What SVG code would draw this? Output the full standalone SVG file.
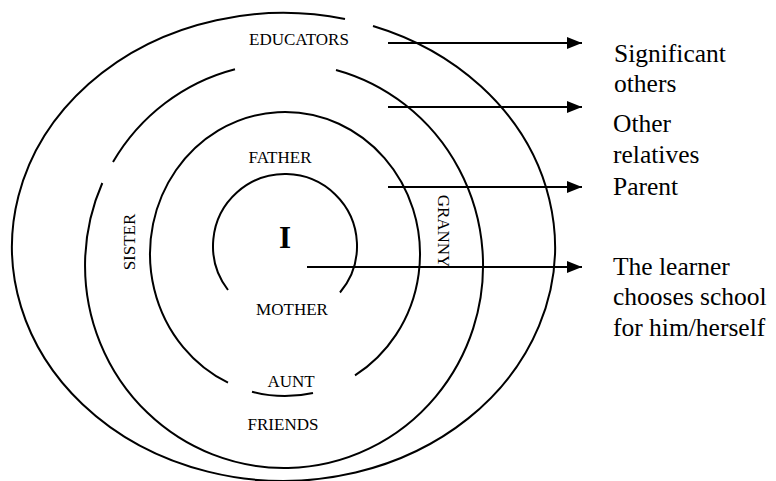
<svg xmlns="http://www.w3.org/2000/svg" width="776" height="481" viewBox="0 0 776 481">
<defs>
<style>
.ring{fill:none;stroke:#000;stroke-width:2}
.lbl{font-family:'Liberation Serif','Times New Roman',serif;font-size:17px;fill:#000}
.side{font-family:'Liberation Serif','Times New Roman',serif;font-size:25.5px;fill:#000}
.arr{stroke:#000;stroke-width:2;fill:none;marker-end:url(#ah)}
</style>
<marker id="ah" markerUnits="userSpaceOnUse" markerWidth="16" markerHeight="14" refX="15" refY="6" orient="auto">
<path d="M0,0 L15,6 L0,12 Z" fill="#000"/>
</marker>
</defs>
<rect width="776" height="481" fill="#fff"/>
<g id="ring-significant-others">
<path class="ring" d="M 373 26 A 271.5 234 0 1 1 345 19"/>
<text class="lbl" x="299" y="45" text-anchor="middle">EDUCATORS</text>
<text class="lbl" x="283" y="430" text-anchor="middle">FRIENDS</text>
</g>
<g id="ring-other-relatives">
<path class="ring" d="M 336 70 A 199 202.5 0 1 1 102.3 183"/>
<path class="ring" d="M 113 162 A 199 202.5 0 0 1 235 69.2"/>
<text class="lbl" transform="translate(135,242) rotate(-90)" text-anchor="middle">SISTER</text>
<text class="lbl" transform="translate(438,231) rotate(90)" text-anchor="middle">GRANNY</text>
<text class="lbl" x="291" y="387" text-anchor="middle">AUNT</text>
</g>
<g id="ring-parent">
<path class="ring" d="M 228 382.7 A 135 142 0 1 1 355 375.4"/>
<path class="ring" d="M 313 392.9 A 135 142 0 0 1 252 391.7"/>
<text class="lbl" x="280" y="163" text-anchor="middle">FATHER</text>
<text class="lbl" x="292" y="315" text-anchor="middle">MOTHER</text>
</g>
<g id="ring-learner">
<path class="ring" d="M 228 290 A 72 72 0 1 1 340 292.5"/>
<text x="285" y="248" text-anchor="middle" font-family="Liberation Serif, Times New Roman, serif" font-size="31" font-weight="bold">I</text>
</g>
<g id="connectors">
<line class="arr" x1="388" y1="43" x2="582" y2="43"/>
<line class="arr" x1="388" y1="107" x2="582" y2="107"/>
<line class="arr" x1="388" y1="187" x2="582" y2="187"/>
<line class="arr" x1="307" y1="267" x2="582" y2="267"/>
</g>
<g id="label-significant-others" font-family="Liberation Serif, Times New Roman, serif">
<text class="side" x="614" y="62">Significant</text>
<text class="side" x="614" y="92">others</text>
</g>
<g id="label-other-relatives" font-family="Liberation Serif, Times New Roman, serif">
<text class="side" x="613" y="132">Other</text>
<text class="side" x="613" y="163">relatives</text>
</g>
<g id="label-parent" font-family="Liberation Serif, Times New Roman, serif">
<text class="side" x="613" y="195">Parent</text>
</g>
<g id="label-learner" font-family="Liberation Serif, Times New Roman, serif">
<text class="side" x="613" y="275">The learner</text>
<text class="side" x="613" y="305">chooses school</text>
<text class="side" x="613" y="336">for him/herself</text>
</g>
</svg>
